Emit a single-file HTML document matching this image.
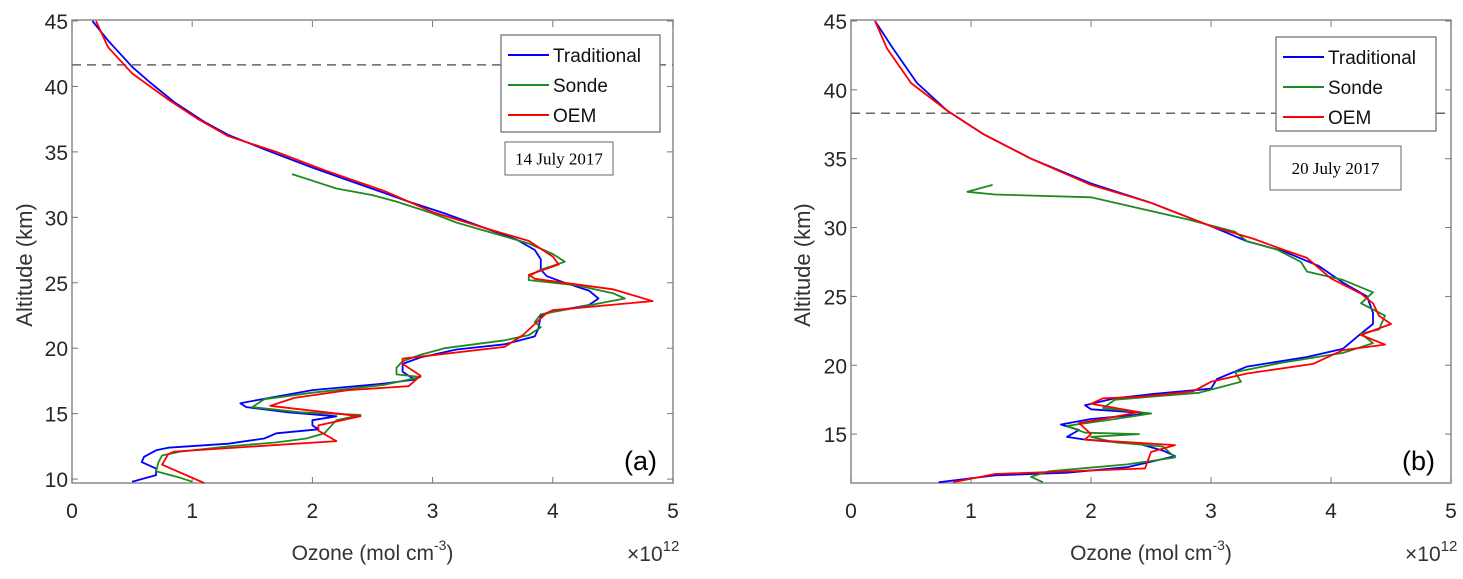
<!DOCTYPE html>
<html><head><meta charset="utf-8"><style>
body{margin:0;background:#fff;}
svg{display:block;font-family:"Liberation Sans",Arial,sans-serif;}
</style></head><body>
<svg id="chart" width="1463" height="579" viewBox="0 0 1463 579" xmlns="http://www.w3.org/2000/svg"></svg>
<script>
// ---- data (value x1e12 mol cm^-3, altitude km) ----
const xTicks = [0,1,2,3,4,5];
const yTicksA = [10,15,20,25,30,35,40,45];
const yTicksB = [15,20,25,30,35,40,45];
const seriesNames = ["Traditional","Sonde","OEM"];
const aTradX=[0.17,0.3,0.42,0.5,0.65,0.85,1.1,1.3,1.6,2.0,2.4,2.8,3.1,3.4,3.7,3.85,3.9,3.9,3.95,4.1,4.3,4.38,4.3,4.0,3.9,3.88,3.85,3.6,3.2,2.9,2.75,2.75,2.85,2.6,2.0,1.7,1.4,1.45,1.8,2.2,2.0,2.0,2.05,1.7,1.6,1.3,0.8,0.7,0.6,0.58,0.7,0.7,0.5];
const aTradY=[45,43.5,42.3,41.5,40.3,38.8,37.3,36.3,35.2,33.8,32.5,31.2,30.3,29.3,28.3,27.5,26.8,26,25.5,25,24.4,23.8,23.3,22.8,22.5,21.5,20.9,20.3,19.9,19.3,18.8,18.2,17.6,17.3,16.8,16.3,15.8,15.5,15.1,14.8,14.5,14.1,13.8,13.5,13.1,12.7,12.4,12.2,11.7,11.3,10.8,10.3,9.8];
const aSondeX=[1.83,2.0,2.2,2.5,2.7,3.0,3.2,3.5,3.8,4.0,4.1,3.9,3.8,3.8,4.2,4.5,4.6,4.2,3.9,3.85,3.9,3.8,3.6,3.1,2.9,2.75,2.7,2.7,2.9,2.6,2.3,2.0,1.6,1.5,1.9,2.4,2.2,2.15,2.1,1.95,1.7,1.3,0.9,0.75,0.72,0.7,0.9,1.0];
const aSondeY=[33.3,32.8,32.2,31.7,31.2,30.3,29.6,28.8,28,27.2,26.6,26,25.5,25.2,24.8,24.2,23.8,23.1,22.6,22,21.6,21,20.6,20,19.5,19,18.5,18,17.8,17.2,16.9,16.6,16.1,15.5,15.1,14.9,14.5,14,13.5,13.1,12.8,12.5,12.1,11.8,11.3,10.6,10.1,9.8];
const aOemX=[0.2,0.3,0.5,0.8,1.05,1.3,1.7,2.1,2.6,3.0,3.5,3.8,4.0,4.05,3.8,3.85,4.5,4.83,4.0,3.95,3.75,3.6,2.75,2.75,2.9,2.8,2.3,1.85,1.65,2.4,2.05,2.05,2.2,0.85,0.8,0.75,1.1];
const aOemY=[45,43,41,39,37.5,36.2,35,33.6,32,30.4,29,28.2,27,26.4,25.6,25.3,24.5,23.6,22.9,22.7,21,20.1,19.2,18.8,17.9,17.1,16.8,16.2,15.6,14.8,14.1,13.7,12.9,12.1,11.9,11.1,9.7];
const bTradX=[0.2,0.35,0.55,0.8,1.1,1.5,2.0,2.5,3.0,3.3,3.6,3.9,4.1,4.3,4.35,4.35,4.25,4.1,3.8,3.3,3.05,3.0,2.5,2.2,1.95,2.0,2.5,2.0,1.75,1.9,1.8,1.95,2.4,2.6,2.7,2.5,2.3,1.8,1.2,0.73];
const bTradY=[45,43,40.5,38.5,36.8,35,33.2,31.8,30.1,29,28.3,27.2,26,25,23.8,23,22.3,21.2,20.6,19.9,19,18.3,17.9,17.6,17.1,16.8,16.5,16.1,15.7,15.3,14.8,14.6,14.3,13.8,13.4,13,12.6,12.2,12,11.5];
const bSondeX=[1.18,0.97,1.2,2.0,2.2,2.5,2.8,3.2,3.3,3.55,3.75,3.8,4.1,4.35,4.25,4.45,4.4,4.25,4.35,4.1,3.6,3.2,3.25,2.9,2.2,2.1,2.5,2.2,1.8,1.95,2.4,2.0,2.2,2.6,2.7,2.3,1.65,1.5,1.6];
const bSondeY=[33.1,32.6,32.4,32.2,31.8,31.2,30.6,29.7,29,28.4,27.5,26.8,26.2,25.3,24.5,23.6,22.6,22.3,21.6,20.9,20.2,19.5,18.8,18,17.5,16.9,16.5,16.1,15.6,15.1,15,14.8,14.4,14.1,13.3,12.8,12.3,11.9,11.5];
const bOemX=[0.2,0.3,0.5,0.8,1.1,1.5,2.0,2.5,3.0,3.35,3.6,3.8,4.0,4.25,4.35,4.4,4.5,4.25,4.45,4.1,3.85,3.3,3.0,2.85,2.4,2.1,2.0,2.4,2.1,1.9,2.0,1.95,2.7,2.5,2.45,1.2,0.85];
const bOemY=[45,43,40.5,38.5,36.8,35,33.1,31.8,30.1,29.2,28.4,27.8,26.3,25.2,24.5,23.6,23,22.2,21.5,21.1,20.1,19.4,18.8,18.1,17.7,17.6,17.2,16.6,16.1,15.8,15,14.6,14.2,13.7,12.5,12.1,11.5];

const NS="http://www.w3.org/2000/svg";
const svg=document.getElementById('chart');
function mk(tag,attrs,parent,text){const e=document.createElementNS(NS,tag);for(const k in attrs)e.setAttribute(k,attrs[k]);if(text!==undefined)e.textContent=text;(parent||svg).appendChild(e);return e;}
const colors={"Traditional":"#0000ff","Sonde":"#1f8a1f","OEM":"#ff0000"};

function panel(cfg){
  const g=mk('g',{});
  
  
  const L=cfg.left,R=cfg.right,T=21,B=483;
  const sx=v=>L+(v-0)/5*(R-L);
  const sy=a=>T+(45-a)/(45-cfg.ymin)*(B-T);
  const fr=mk('rect',{x:L,y:T-1,width:R-L,height:B-T+1,fill:'none',stroke:'#8a8a8a','stroke-width':1.5},g);
  
  
  xTicks.forEach(t=>{
    const x=sx(t);
    mk('line',{x1:x,y1:B,x2:x,y2:B-6,stroke:'#777'},g);
    mk('line',{x1:x,y1:T,x2:x,y2:T+6,stroke:'#777'},g);
    const tl=mk('text',{x:x,y:518,'text-anchor':'middle','font-size':21,fill:'#262626'},g,String(t));
    
    
  });
  cfg.yt.forEach(t=>{
    const y=sy(t);
    mk('line',{x1:L,y1:y,x2:L+6,y2:y,stroke:'#777'},g);
    mk('line',{x1:R,y1:y,x2:R-6,y2:y,stroke:'#777'},g);
    const tl=mk('text',{x:L-4,y:y+8,'text-anchor':'end','font-size':21,fill:'#262626'},g,String(t));
    
    
  });
  const dl=mk('line',{x1:L,y1:sy(cfg.dash),x2:R,y2:sy(cfg.dash),stroke:'#666','stroke-width':1.5,'stroke-dasharray':'9,6'},g);
  
  
  cfg.series.forEach((s,i)=>{
    const pts=s[0].map((v,j)=>sx(v).toFixed(1)+','+sy(s[1][j]).toFixed(1)).join(' ');
    const pl=mk('polyline',{points:pts,fill:'none',stroke:colors[seriesNames[i]],'stroke-width':1.8,'stroke-linejoin':'round'},g);
    
    
  });
  const lg=mk('g',{},g);
  
  
  const lb=cfg.leg;
  mk('rect',{x:lb[0],y:lb[1],width:lb[2],height:lb[3],fill:'#fff',stroke:'#777','stroke-width':1.3},lg);
  seriesNames.forEach((n,i)=>{
    const y=lb[1]+20+i*30;
    mk('line',{x1:lb[0]+7,y1:y,x2:lb[0]+48,y2:y,stroke:colors[n],'stroke-width':2},lg);
    const t=mk('text',{x:lb[0]+52,y:y+7,'font-size':19,fill:'#111'},lg,n);
    
    
  });
  const db=cfg.date;
  const dg=mk('g',{},g);
  
  
  mk('rect',{x:db[0],y:db[1],width:db[2],height:db[3],fill:'#fff',stroke:'#666'},dg);
  mk('text',{x:db[0]+db[2]/2,y:db[1]+db[3]/2+6,'text-anchor':'middle','font-size':db[4],'font-family':'Liberation Serif,serif',fill:'#000'},dg,cfg.dateText);
  const pl=mk('text',{x:R-16,y:470,'text-anchor':'end','font-size':27,fill:'#000'},g,cfg.letter);
  
  
  const xl=mk('text',{x:(L+R)/2,y:560,'text-anchor':'middle','font-size':21,fill:'#333'},g);
  
  
  xl.innerHTML='Ozone (mol cm<tspan dy="-10" font-size="14">-3</tspan><tspan dy="10">)</tspan>';
  const ex=mk('text',{x:R-46,y:561,'font-size':21,fill:'#333'},g);
  
  
  ex.innerHTML='×10<tspan dy="-10" font-size="15">12</tspan>';
  const yl=mk('text',{x:0,y:0,'text-anchor':'middle','font-size':22,fill:'#333',transform:`translate(${cfg.ylx},265) rotate(-90)`},g,'Altitude (km)');
  
  
}
panel({name:'panel-a',left:72,right:673,ymin:9.7,yt:yTicksA,dash:41.65,
  series:[[aTradX,aTradY],[aSondeX,aSondeY],[aOemX,aOemY]],
  leg:[501,35,159,97],date:[505,142,108,33,17],dateText:'14 July 2017',letter:'(a)',ylx:32});
panel({name:'panel-b',left:851,right:1451,ymin:11.45,yt:yTicksB,dash:38.3,
  series:[[bTradX,bTradY],[bSondeX,bSondeY],[bOemX,bOemY]],
  leg:[1276,37,160,94],date:[1270,146,131,44,17],dateText:'20 July 2017',letter:'(b)',ylx:810});
</script>
</body></html>
